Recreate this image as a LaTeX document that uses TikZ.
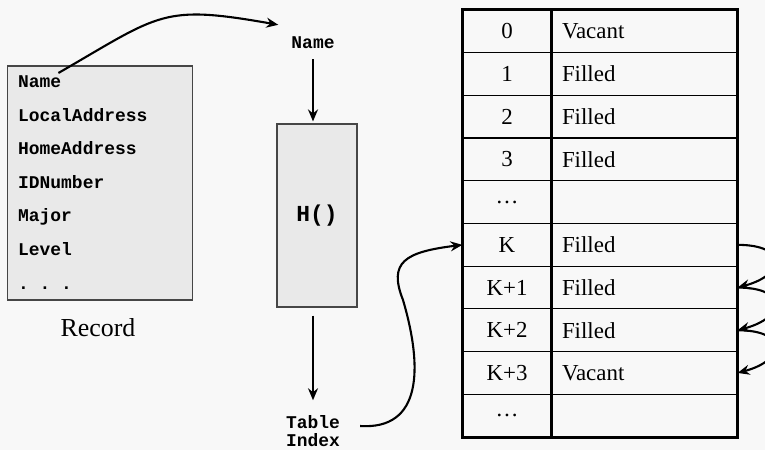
\documentclass[tikz,border=0pt]{standalone}
\usepackage{fontspec}
\setmainfont{Liberation Serif}
\setmonofont{Liberation Mono}
\usetikzlibrary{arrows.meta}
\definecolor{pagegray}{RGB}{248,248,248}
\definecolor{boxgray}{RGB}{233,233,233}
\definecolor{edgegray}{RGB}{70,70,70}

\begin{document}
\begin{tikzpicture}[x=1bp, y=-1bp,
  field/.style={anchor=base west, inner sep=0pt, font=\fontsize{18}{18}\selectfont\ttfamily\bfseries},
  tag/.style={font=\fontsize{18}{18}\selectfont\ttfamily\bfseries, align=center, inner sep=2bp},
  panel/.style={draw=edgegray, line width=1.2bp, fill=boxgray, inner sep=0pt},
  slot/.style={draw, line width=1.2bp, minimum width=88bp, minimum height=42.7bp, inner sep=0pt, font=\fontsize{23}{23}\selectfont},
  cell/.style={draw, line width=1.2bp, minimum height=42.7bp, text width=164bp, inner xsep=11bp, inner ysep=0pt, align=left, font=\fontsize{23}{23}\selectfont},
  arrow/.style={-{Stealth[length=12bp,width=10bp,inset=4bp]}, line width=2.1bp}
]
\useasboundingbox[fill=pagegray] (0,0) rectangle (765,450);

% record
\node[panel, minimum width=184.6bp, minimum height=234bp] (rec) at (100,183) {};
\node[field] (rname) at (18,88) {Name};
\node[field] (rlocal) at (18,121.5) {LocalAddress};
\node[field] (rhome) at (18,155) {HomeAddress};
\node[field] (rid) at (18,188.5) {IDNumber};
\node[field] (rmajor) at (18,222) {Major};
\node[field] (rlevel) at (18,255.5) {Level};
\node[field] (rmore) at (18,290) {. . .};
\node[font=\fontsize{26}{26}\selectfont] (rlabel) at (98,328) {Record};

% hash function
\node[tag] (tname) at (313,43) {Name};
\node[panel, minimum width=80bp, minimum height=183bp, font=\fontsize{23}{23}\selectfont\ttfamily\bfseries] (hbox) at (317,215.5) {H()};
\node[tag] (tidx) at (313,431) {Table\\Index};

% table
\node[slot] (i0) at (507,31.35) {0};      \node[cell] (s0) at (644,31.35) {Vacant};
\node[slot] (i1) at (507,74.05) {1};      \node[cell] (s1) at (644,74.05) {Filled};
\node[slot] (i2) at (507,116.75) {2};     \node[cell] (s2) at (644,116.75) {Filled};
\node[slot] (i3) at (507,159.45) {3};     \node[cell] (s3) at (644,159.45) {Filled};
\node[slot] (i4) at (507,202.15) {\dots}; \node[cell] (s4) at (644,202.15) {};
\node[slot] (i5) at (507,244.85) {K};     \node[cell] (s5) at (644,244.85) {Filled};
\node[slot] (i6) at (507,287.55) {K+1};   \node[cell] (s6) at (644,287.55) {Filled};
\node[slot] (i7) at (507,330.25) {K+2};   \node[cell] (s7) at (644,330.25) {Filled};
\node[slot] (i8) at (507,372.95) {K+3};   \node[cell] (s8) at (644,372.95) {Vacant};
\node[slot] (i9) at (507,415.65) {\dots}; \node[cell] (s9) at (644,415.65) {};
\draw[line width=2.8bp] (i0.north west) rectangle (s9.south east);
\draw[line width=2.8bp] (i0.north east) -- (i9.south east);

% connectors
\draw[arrow] ([shift={(-3,-3)}]rname.north east) to[out=30,in=170,looseness=1.35] ([shift={(-11,-10)}]tname.north west);
\draw[arrow, shorten <=8bp, shorten >=2bp] (tname.south) -- (tname.south |- hbox.north);
\draw[arrow, shorten <=8bp, shorten >=13bp] (tname.south |- hbox.south) -- (tidx.north);
\coordinate (kink) at (403,300);
\draw[arrow] ([shift={(18,-5)}]tidx.east) .. controls (422,430) and (423,368) .. (kink)
  .. controls (388,262) and (405,252) .. (i5.west);
\draw[arrow] (s5.east) to[out=0,in=15,looseness=3] (s6.east);
\draw[arrow] (s6.east) to[out=0,in=15,looseness=3] (s7.east);
\draw[arrow] (s7.east) to[out=0,in=15,looseness=3] (s8.east);
\end{tikzpicture}
\end{document}
